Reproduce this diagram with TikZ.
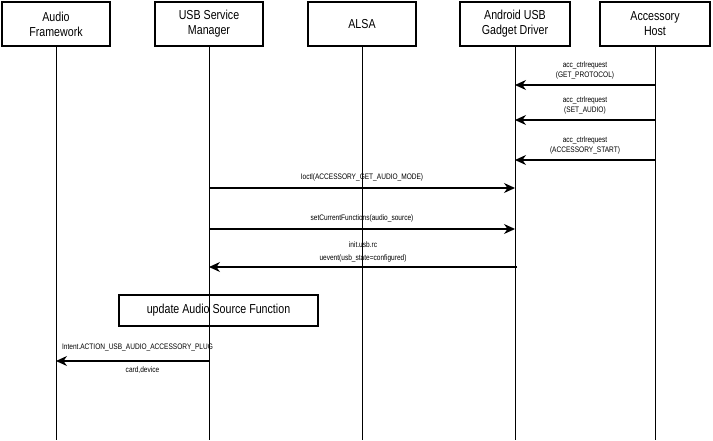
\documentclass[tikz,border=0pt]{standalone}
\usepackage{fontspec}
\setmainfont{Liberation Sans}[FakeStretch=0.82]
\usetikzlibrary{arrows.meta}
\begin{document}
\begin{tikzpicture}[x=1pt,y=-1pt,
  box/.style={draw,line width=1.1pt,minimum width=108pt,minimum height=44pt,align=center,font=\fontsize{13}{15}\selectfont},
  life/.style={line width=1pt},
  msg/.style={line width=1.1pt,-{Stealth[length=11pt,width=10pt]}},
  lbl/.style={font=\fontsize{8}{9.5}\selectfont,align=center}]
\useasboundingbox (0,0) rectangle (713,440);
\node[box] (af) at (56,24) {Audio\\Framework};
\node[box] (usm) at (209,24) {USB Service\\Manager};
\node[box] (alsa) at (362,24) {ALSA};
\node[box,minimum width=110pt] (agd) at (515,24) {Android USB\\Gadget Driver};
\node[box,minimum width=110pt] (host) at (655,24) {Accessory\\Host};
\foreach \n/\x in {af/56,usm/209,alsa/362,agd/515,host/655}{
  \coordinate (\n-end) at (\x,440);
  \draw[life] (\n.south) -- (\n-end);}
\foreach \y/\t in {85/{acc\_ctrlrequest\\(GET\_PROTOCOL)},120/{acc\_ctrlrequest\\(SET\_AUDIO)},160/{acc\_ctrlrequest\\(ACCESSORY\_START)}}{
  \coordinate (h\y) at (655,\y); \coordinate (a\y) at (515,\y);
  \draw[msg] (h\y) -- node[lbl,above=2pt] {\t} (a\y);}
\coordinate (u1) at (209,188); \coordinate (g1) at (515,188);
\draw[msg] (u1) -- node[lbl,above=3pt] {Ioctl(ACCESSORY\_GET\_AUDIO\_MODE)} (g1);
\coordinate (u2) at (209,229); \coordinate (g2) at (515,229);
\draw[msg] (u2) -- node[lbl,above=3pt] {setCurrentFunctions(audio\_source)} (g2);
\coordinate (u3) at (209,267); \coordinate (g3) at (517,267);
\draw[msg] (g3) -- node[lbl,above=1pt] {init.usb.rc\\[3pt]uevent(usb\_state=configured)} (u3);
\node[draw,line width=1.1pt,minimum width=199pt,minimum height=31pt,font=\fontsize{13}{15}\selectfont] (upd) at (218.5,310.5) {update Audio Source Function};
\coordinate (u4) at (209,361); \coordinate (f4) at (56,361);
\draw[msg] (u4) -- node[lbl,above=6pt,xshift=5pt] {Intent.ACTION\_USB\_AUDIO\_ACCESSORY\_PLUG} node[lbl,below=2pt,xshift=10pt] {card,device} (f4);
\end{tikzpicture}
\end{document}
